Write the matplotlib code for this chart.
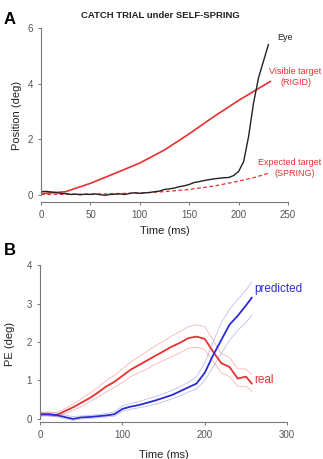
import numpy as np
import matplotlib
matplotlib.use('Agg')
from matplotlib import pyplot as plt
from matplotlib.transforms import blended_transform_factory

plt.rcParams['font.family'] = ['Liberation Sans', 'DejaVu Sans']

# ---- panel A data
rigid_t = [0, 25, 50, 75, 100, 125, 150, 175, 200, 232]
rigid_y = [0.05, 0.12, 0.42, 0.78, 1.15, 1.62, 2.2, 2.82, 3.4, 4.08]

spring_t = [0, 50, 100, 125, 150, 175, 200, 215, 232]
spring_y = [0.02, 0.03, 0.07, 0.12, 0.2, 0.32, 0.5, 0.62, 0.8]

eye_t = list(range(0, 235, 5))
eye_y = [0.12, 0.13, 0.11, 0.09, 0.06, 0.05, 0.02, 0.03, 0.01, 0.03,
         0.02, 0.04, 0.01, -0.01, 0.02, 0.03, 0.04, 0.02, 0.06, 0.08,
         0.06, 0.08, 0.09, 0.12, 0.14, 0.2, 0.22, 0.25, 0.3, 0.33,
         0.38, 0.45, 0.48, 0.52, 0.55, 0.58, 0.6, 0.62, 0.63, 0.7,
         0.85, 1.2, 2.1, 3.3, 4.2, 4.8, 5.4]

# ---- panel B data
pe_t = [0, 10, 20, 30, 40, 50, 60, 70, 80, 90, 100, 110, 120, 130, 140,
        150, 160, 170, 180, 190, 200, 210, 220, 230, 240, 250, 257]
real = [0.12, 0.12, 0.1, 0.2, 0.3, 0.42, 0.54, 0.68, 0.84, 0.96, 1.12, 1.28, 1.4, 1.52, 1.64,
        1.76, 1.88, 1.98, 2.1, 2.14, 2.08, 1.75, 1.45, 1.35, 1.05, 1.1, 0.92]
real_hi = [0.17, 0.18, 0.16, 0.26, 0.38, 0.52, 0.66, 0.82, 0.99, 1.13, 1.3, 1.48, 1.62, 1.76, 1.9,
           2.02, 2.16, 2.27, 2.4, 2.45, 2.4, 2.05, 1.7, 1.6, 1.3, 1.3, 1.15]
real_lo = [0.08, 0.08, 0.06, 0.14, 0.22, 0.32, 0.44, 0.56, 0.7, 0.82, 0.95, 1.1, 1.2, 1.3, 1.42,
           1.52, 1.62, 1.72, 1.84, 1.86, 1.8, 1.5, 1.2, 1.1, 0.85, 0.85, 0.72]
pred = [0.12, 0.12, 0.1, 0.05, 0.0, 0.04, 0.05, 0.07, 0.09, 0.12, 0.26, 0.32, 0.36, 0.42, 0.48,
        0.55, 0.62, 0.72, 0.82, 0.92, 1.2, 1.65, 2.05, 2.45, 2.68, 2.95, 3.15]
pred_hi = [0.16, 0.16, 0.15, 0.1, 0.06, 0.08, 0.09, 0.11, 0.14, 0.18, 0.34, 0.4, 0.45, 0.52, 0.58,
           0.66, 0.74, 0.84, 0.95, 1.1, 1.45, 2.0, 2.5, 2.85, 3.1, 3.35, 3.55]
pred_lo = [0.08, 0.08, 0.06, 0.01, -0.04, 0.0, 0.01, 0.03, 0.05, 0.07, 0.2, 0.25, 0.29, 0.33, 0.38,
           0.45, 0.52, 0.6, 0.7, 0.78, 1.0, 1.35, 1.7, 2.05, 2.3, 2.5, 2.7]

RED = '#e83030'
BLUE = '#2b2bd6'
GREY = '#555555'

fig = plt.figure(figsize=(3.23, 4.59), dpi=100)
axA = fig.add_axes([0.127, 0.560, 0.765, 0.379])
axB = fig.add_axes([0.124, 0.0806, 0.765, 0.342])


def style(ax, xt, yt):
    for s in ['top', 'right']:
        ax.spines[s].set_visible(False)
    for s in ['left', 'bottom']:
        ax.spines[s].set_color('#777777')
        ax.spines[s].set_linewidth(0.8)
    ax.set_xticks(xt)
    ax.set_yticks(yt)
    ax.spines['left'].set_bounds(0, yt[-1])
    ax.tick_params(direction='out', length=2.5, width=0.7, colors='#777777',
                   labelcolor=GREY, labelsize=7)


# panel A
axA.plot(rigid_t, rigid_y, color=RED, lw=1.2)
axA.plot(spring_t, spring_y, color=RED, lw=0.9, ls=(0, (3, 2)))
axA.plot(eye_t, eye_y, color='#222222', lw=1.0)
axA.set_xlim(0, 250)
axA.set_ylim(-0.25, 6)
style(axA, [0, 50, 100, 150, 200, 250], [0, 2, 4, 6])
axA.set_xlabel('Time (ms)', fontsize=8, color='#222222', labelpad=4)
axA.set_ylabel('Position (deg)', fontsize=8, color='#222222', labelpad=4)
axA.text(247, 5.65, 'Eye', fontsize=6.5, color='#222222', ha='center', va='center')
tr = blended_transform_factory(fig.transFigure, axA.transData)
axA.text(0.995, 4.44, 'Visible target', fontsize=6.5, color=RED, ha='right', va='center',
         transform=tr, clip_on=False)
axA.text(296 / 323, 4.05, '(RIGID)', fontsize=6.5, color=RED, ha='center', va='center',
         transform=tr, clip_on=False)
axA.text(0.995, 1.16, 'Expected target', fontsize=6.5, color=RED, ha='right', va='center',
         transform=tr, clip_on=False)
axA.text(295 / 323, 0.76, '(SPRING)', fontsize=6.5, color=RED, ha='center', va='center',
         transform=tr, clip_on=False)
fig.text(0.495, 0.966, 'CATCH TRIAL under SELF-SPRING', fontsize=6.8, fontweight='bold',
         color='#222222', ha='center', va='center')
fig.text(0.012, 0.958, 'A', fontsize=12, fontweight='bold', ha='left', va='center')

# panel B
axB.plot(pe_t, real_hi, color=RED, lw=0.6, alpha=0.35)
axB.plot(pe_t, real_lo, color=RED, lw=0.6, alpha=0.35)
axB.plot(pe_t, pred_hi, color=BLUE, lw=0.6, alpha=0.3)
axB.plot(pe_t, pred_lo, color=BLUE, lw=0.6, alpha=0.3)
axB.plot(pe_t, real, color=RED, lw=1.3)
axB.plot(pe_t, pred, color=BLUE, lw=1.3)
axB.set_xlim(0, 300)
axB.set_ylim(-0.08, 4)
style(axB, [0, 100, 200, 300], [0, 1, 2, 3, 4])
axB.set_xlabel('Time (ms)', fontsize=8, color='#222222', labelpad=7)
axB.set_ylabel('PE (deg)', fontsize=8, color='#222222', labelpad=8)
axB.text(260, 3.38, 'predicted', fontsize=8.5, color=BLUE, ha='left', va='center')
axB.text(260, 1.0, 'real', fontsize=8.5, color=RED, ha='left', va='center')
fig.text(0.012, 0.455, 'B', fontsize=12, fontweight='bold', ha='left', va='center')

fig.savefig('out.png', dpi=100)
